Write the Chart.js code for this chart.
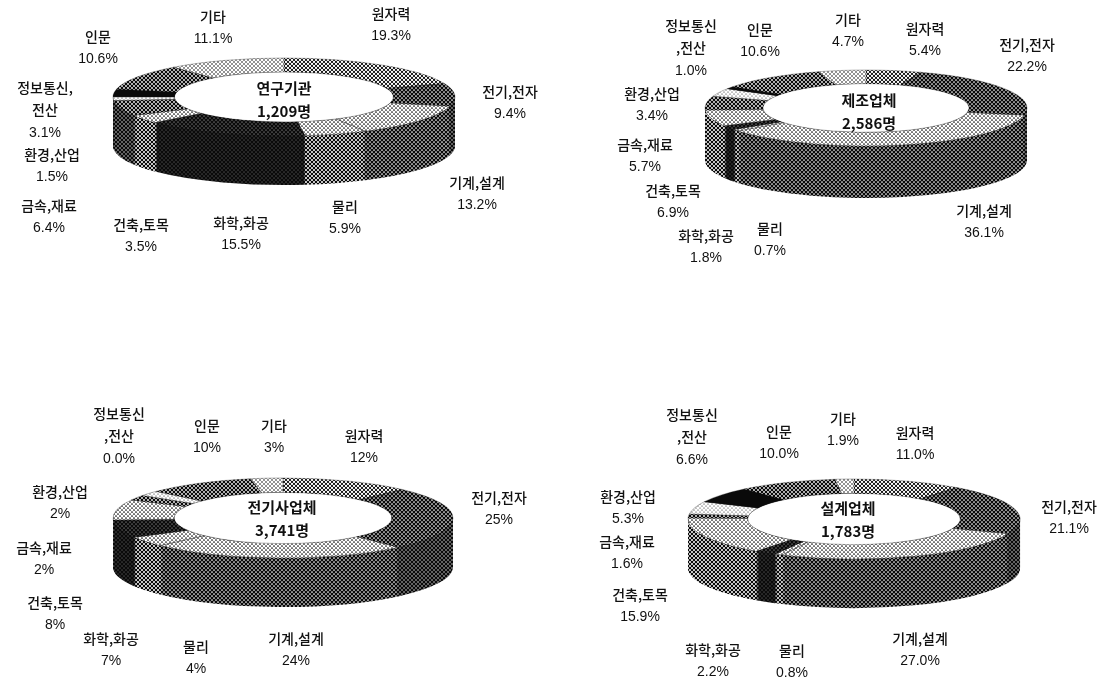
<!DOCTYPE html>
<html lang="ko">
<head>
<meta charset="utf-8">
<title>분야별 인력 구성</title>
<script src="https://cdn.jsdelivr.net/npm/chart.js@4/dist/chart.umd.js"></script>
<style>
  html, body { margin: 0; background: #fff; }
  #page { position: relative; width: 1111px; height: 681px; overflow: hidden; }
  #page canvas { position: absolute; left: 0; top: 0; }
</style>
</head>
<body>
<div id="page">
  <canvas id="research" width="1111" height="681"></canvas>
  <canvas id="manufacture" width="1111" height="681"></canvas>
  <canvas id="electric" width="1111" height="681"></canvas>
  <canvas id="design" width="1111" height="681"></canvas>
</div>
<script>
// Fields, clockwise from twelve o'clock.
const fields = ['원자력', '전기,전자', '기계,설계', '물리', '화학,화공', '건축,토목', '금속,재료', '환경,산업', '정보통신,전산', '인문', '기타'];

// Share of engineers per field (%), one list per employer group.
const researchShares    = [19.3,  9.4, 13.2, 5.9, 15.5,  3.5, 6.4, 1.5, 3.1, 10.6, 11.1];
const manufactureShares = [ 5.4, 22.2, 36.1, 0.7,  1.8,  6.9, 5.7, 3.4, 1.0, 10.6,  4.7];
const electricShares    = [12,   25,   24,   4,    7,    8,   2,   2,   0,   10,    3];
const designShares      = [11.0, 21.1, 27.0, 0.8,  2.2, 15.9, 1.6, 5.3, 6.6, 10.0,  1.9];

// Group names and head counts written inside the ring.
const groupNames  = ['연구기관', '제조업체', '전기사업체', '설계업체'];
const groupCounts = ['1,209명', '2,586명', '3,741명', '1,783명'];

// Halftone darkness of each field: top face, then outer wall.
const topTones  = [0.50, 0.70, 0.28, 0.28, 0.90, 0.28, 0.68, 0.12, 1.00, 0.68, 0.25];
const wallTones = [0.70, 0.82, 0.70, 0.58, 0.92, 0.58, 0.82, 0.85, 1.00, 0.82, 0.70];

// Ring placement on the page: centre, radii and wall height.
const placements = [
  { cx: 284, cy: 97,  rx: 171, ry: 39, depth: 49 },
  { cx: 866, cy: 108, rx: 161, ry: 38, depth: 52 },
  { cx: 283, cy: 518, rx: 170, ry: 40, depth: 49 },
  { cx: 854, cy: 519, rx: 166, ry: 40, depth: 49 }
];

// Text anchors: [x, first-line y] with the lines of each label stacked beneath.
const labelAnchors = [
  [[391, 14], [510, 92], [477, 183], [345, 207], [241, 223], [141, 225], [49, 206], [52, 155], [45, 88], [98, 37], [213, 17]],
  [[925, 29], [1027, 45], [984, 211], [770, 229], [706, 236], [673, 191], [645, 145], [652, 94], [691, 26], [760, 30], [848, 20]],
  [[364, 436], [499, 498], [296, 639], [196, 647], [111, 639], [55, 603], [44, 548], [60, 492], [119, 414], [207, 426], [274, 426]],
  [[915, 433], [1069, 507], [920, 639], [792, 651], [713, 650], [640, 595], [627, 542], [628, 497], [692, 415], [779, 432], [843, 419]]
];
const titleAnchors = [[284, 88], [869, 100], [282, 507], [848, 508]];

const percentFormats = [
  v => v.toFixed(1) + '%',
  v => v.toFixed(1) + '%',
  (v, i) => (i === 8 ? v.toFixed(1) : String(v)) + '%',
  v => v.toFixed(1) + '%'
];

// The long field name wraps differently in the first group.
const fieldLines = (name, group) => {
  if (name !== '정보통신,전산') return [name];
  return group === 0 ? ['정보통신,', '전산'] : ['정보통신', ',전산'];
};

// Builds a 45-degree halftone tile for a darkness between 0 and 1.
function halftone(ctx, tone) {
  if (tone >= 1) return '#0a0a0a';
  const tile = document.createElement('canvas');
  tile.width = tile.height = 4;
  const t = tile.getContext('2d');
  const dark = tone >= 0.5;
  t.fillStyle = dark ? '#0a0a0a' : '#ffffff';
  t.fillRect(0, 0, 4, 4);
  t.fillStyle = dark ? '#ffffff' : '#0a0a0a';
  const r = Math.sqrt((dark ? 1 - tone : tone) * 16 / (2 * Math.PI));
  [[0, 0], [4, 0], [0, 4], [4, 4], [2, 2]].forEach(([x, y]) => {
    t.beginPath();
    t.arc(x, y, r, 0, Math.PI * 2);
    t.fill();
  });
  return ctx.createPattern(tile, 'repeat');
}

// Keeps a pattern fixed to the page while the context is squashed.
function pinPattern(ctx, fill) {
  if (fill instanceof CanvasPattern) fill.setTransform(ctx.getTransform().inverse());
}

// Draws the doughnut as a tilted disc: stacked wall layers, white hole, top face.
function tiltedRing(place, wallFill, groupIndex, shares) {
  return {
    id: 'tiltedRing',
    beforeDatasetsDraw(chart) {
      const { ctx } = chart;
      const arcs = chart.getDatasetMeta(0).data;
      const first = arcs[0];
      const sx = place.rx / first.outerRadius;
      const sy = place.ry / first.outerRadius;
      const project = (dy) => {
        ctx.translate(place.cx, place.cy + dy);
        ctx.scale(sx, sy);
        ctx.translate(-first.x, -first.y);
      };
      for (let d = place.depth; d >= 1; d--) {
        ctx.save();
        project(d);
        arcs.forEach((arc, i) => {
          const own = arc.options;
          pinPattern(ctx, wallFill[i]);
          arc.options = { ...own, backgroundColor: wallFill[i], borderWidth: 0 };
          arc.draw(ctx);
          arc.options = own;
        });
        ctx.restore();
      }
      ctx.save();
      project(0);
      ctx.beginPath();
      ctx.arc(first.x, first.y, first.innerRadius, 0, Math.PI * 2);
      ctx.fillStyle = '#ffffff';
      ctx.fill();
      arcs.forEach((arc) => {
        pinPattern(ctx, arc.options.backgroundColor);
        arc.draw(ctx);
      });
      ctx.restore();
      return false;
    },
    afterDraw(chart) {
      const { ctx } = chart;
      ctx.save();
      ctx.textAlign = 'center';
      ctx.textBaseline = 'middle';
      ctx.fillStyle = '#111111';
      fields.forEach((name, i) => {
        const [x, y] = labelAnchors[groupIndex][i];
        const lines = fieldLines(name, groupIndex);
        ctx.font = '500 14px "Noto Sans CJK KR"';
        lines.forEach((line, n) => ctx.fillText(line, x, y + n * 22));
        ctx.font = '14px "Liberation Sans"';
        ctx.fillText(percentFormats[groupIndex](shares[i], i), x, y + lines.length * 22.5);
      });
      const [tx, ty] = titleAnchors[groupIndex];
      ctx.font = '700 15px "Noto Sans CJK KR"';
      ctx.fillText(groupNames[groupIndex], tx, ty);
      ctx.fillText(groupCounts[groupIndex], tx, ty + 23);
      ctx.restore();
    }
  };
}

[
  ['research', researchShares],
  ['manufacture', manufactureShares],
  ['electric', electricShares],
  ['design', designShares]
].forEach(([canvasId, shares], groupIndex) => {
  const canvas = document.getElementById(canvasId);
  const ctx = canvas.getContext('2d');
  const topFill = topTones.map(t => halftone(ctx, t));
  const wallFill = wallTones.map(t => halftone(ctx, t));
  new Chart(ctx, {
    type: 'doughnut',
    data: {
      labels: fields,
      datasets: [{
        data: shares,
        backgroundColor: topFill,
        borderColor: '#111111',
        borderWidth: 1
      }]
    },
    options: {
      responsive: false,
      animation: false,
      devicePixelRatio: 1,
      cutout: '64%',
      rotation: 0,
      plugins: { legend: { display: false }, tooltip: { enabled: false } },
      events: []
    },
    plugins: [tiltedRing(placements[groupIndex], wallFill, groupIndex, shares)]
  });
});
</script>
</body>
</html>
